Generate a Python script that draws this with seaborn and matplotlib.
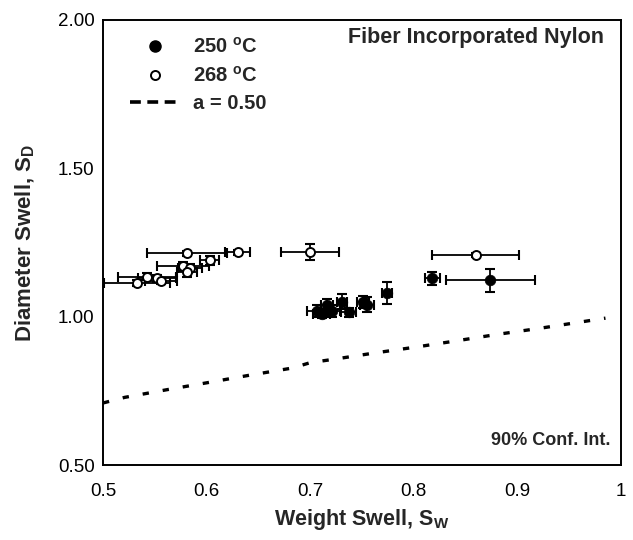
import numpy as np
import matplotlib
matplotlib.use("Agg")
import matplotlib.pyplot as plt
from matplotlib.lines import Line2D
from matplotlib.ticker import MultipleLocator, FixedLocator, FixedFormatter
import seaborn as sns
import pandas as pd

# ---- data ----
w250 = [0.707, 0.711, 0.716, 0.721, 0.731, 0.737, 0.751, 0.755, 0.774, 0.818, 0.874]
d250 = [1.020, 1.010, 1.040, 1.020, 1.050, 1.015, 1.050, 1.040, 1.080, 1.130, 1.122]
xerr250 = [0.010, 0.008, 0.006, 0.008, 0.005, 0.007, 0.006, 0.007, 0.005, 0.007, 0.043]
yerr250 = [0.020, 0.015, 0.020, 0.020, 0.025, 0.015, 0.020, 0.025, 0.038, 0.022, 0.038]

w268 = [0.533, 0.542, 0.552, 0.556, 0.577, 0.584, 0.581, 0.581, 0.603, 0.630, 0.700, 0.860]
d268 = [1.115, 1.135, 1.130, 1.120, 1.170, 1.165, 1.150, 1.213, 1.190, 1.217, 1.217, 1.208]
xerr268 = [0.032, 0.028, 0.018, 0.015, 0.025, 0.012, 0.010, 0.039, 0.009, 0.012, 0.028, 0.042]
yerr268 = [0.010, 0.012, 0.012, 0.010, 0.015, 0.012, 0.015, 0.008, 0.015, 0.008, 0.027, 0.008]

# a = 0.50 model curve
w_model = [0.500, 0.521, 0.562, 0.600, 0.642, 0.683, 0.700, 0.722, 0.761, 0.801, 0.842, 0.880, 0.922, 0.961, 0.985]
d_model = [0.709, 0.728, 0.754, 0.777, 0.803, 0.827, 0.845, 0.856, 0.877, 0.897, 0.919, 0.940, 0.961, 0.982, 0.995]

xticks = [0.5, 0.6, 0.7, 0.8, 0.9, 1.0]
xticklabels = ["0.5", "0.6", "0.7", "0.8", "0.9", "1"]
yticks = [0.5, 1.0, 1.5, 2.0]
yticklabels = ["0.50", "1.00", "1.50", "2.00"]

labels = ["250 $^{\\mathrm{o}}$C", "268 $^{\\mathrm{o}}$C", "a = 0.50"]

# ---- style ----
sns.set_style("white")
plt.rcParams["font.family"] = ["Liberation Sans", "DejaVu Sans"]
plt.rcParams["mathtext.fontset"] = "custom"
plt.rcParams["mathtext.rm"] = "Liberation Sans:bold"
plt.rcParams["mathtext.bf"] = "Liberation Sans:bold"

fig = plt.figure(figsize=(6.33, 5.40), dpi=100)
ax = fig.add_axes([103 / 633, 75 / 540, (621 - 103) / 633, (465 - 20) / 540])

df_model = pd.DataFrame({"w": w_model, "d": d_model})
sns.lineplot(data=df_model, x="w", y="d", ax=ax, color="black", lw=2.4,
             linestyle=(0, (1.9, 4.2)), sort=False, zorder=2)

eb_kw = dict(fmt="none", ecolor="black", elinewidth=1.3, capsize=3.5, capthick=1.5, zorder=3)
ax.errorbar(w268, d268, xerr=xerr268, yerr=yerr268, **eb_kw)
ax.errorbar(w250, d250, xerr=xerr250, yerr=yerr250, **eb_kw)

df268 = pd.DataFrame({"w": w268, "d": d268})
df250 = pd.DataFrame({"w": w250, "d": d250})
sns.scatterplot(data=df268, x="w", y="d", ax=ax, marker="o", s=42,
                facecolor="white", edgecolor="black", linewidth=1.4, zorder=4)
sns.scatterplot(data=df250, x="w", y="d", ax=ax, marker="o", s=58,
                color="black", edgecolor="black", linewidth=0.5, zorder=5)

ax.set_xlim(0.5, 1.0)
ax.set_ylim(0.5, 2.0)
ax.xaxis.set_major_locator(FixedLocator(xticks))
ax.xaxis.set_major_formatter(FixedFormatter(xticklabels))
ax.xaxis.set_minor_locator(MultipleLocator(0.02))
ax.yaxis.set_major_locator(FixedLocator(yticks))
ax.yaxis.set_major_formatter(FixedFormatter(yticklabels))
ax.yaxis.set_minor_locator(MultipleLocator(0.1))
ax.tick_params(axis="both", which="major", direction="inout", length=8, width=1.1,
               labelsize=13.5, colors="black")
ax.tick_params(axis="both", which="minor", direction="in", length=4, width=1.0)
ax.tick_params(axis="x", which="major", pad=9)
ax.tick_params(axis="y", which="major", pad=2)

for s in ax.spines.values():
    s.set_color("black")
    s.set_linewidth(1.4)

ax.set_xlabel("Weight Swell, S$_{\\mathrm{W}}$", fontsize=15.5, fontweight="bold", labelpad=5)
ax.set_ylabel("Diameter Swell, S$_{\\mathrm{D}}$", fontsize=16, fontweight="bold", labelpad=15)

ax.text(0.968, 0.96, "Fiber Incorporated Nylon", transform=ax.transAxes, ha="right",
        va="center", fontsize=15.5, fontweight="bold")
ax.text(0.98, 0.056, "90% Conf. Int.", transform=ax.transAxes, ha="right",
        va="center", fontsize=13, fontweight="bold")

handles = [
    Line2D([], [], marker="o", color="black", linestyle="none", markersize=8),
    Line2D([], [], marker="o", markerfacecolor="white", markeredgecolor="black",
           markeredgewidth=1.4, linestyle="none", markersize=6.5),
    Line2D([], [], color="black", lw=2.6, linestyle=(0, (3.0, 1.8))),
]
leg = ax.legend(handles, labels, loc="upper left", bbox_to_anchor=(0.052, 0.962),
                frameon=False, prop={"weight": "bold", "size": 14.5},
                handlelength=2.5, handletextpad=0.65, labelspacing=0.43,
                borderpad=0, borderaxespad=0)

fig.savefig("out.png", dpi=100)
